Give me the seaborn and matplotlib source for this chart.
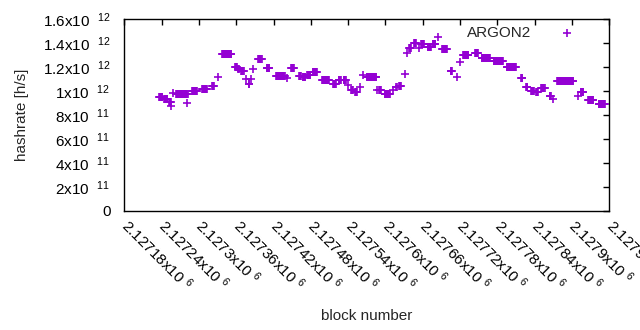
import numpy as np
import pandas as pd
import matplotlib
matplotlib.use("Agg")
import matplotlib.pyplot as plt
import seaborn as sns

# hashrate runs: first block, last block, hashrate (x 1e12 h/s)
run_start = [2127236, 2127244, 2127252, 2127255, 2127258, 2127263, 2127281, 2127289,
             2127305, 2127321, 2127331, 2127337, 2127358, 2127363, 2127368, 2127376,
             2127380, 2127384, 2127387, 2127395, 2127409, 2127424, 2127442, 2127448,
             2127461, 2127467, 2127474, 2127483, 2127498, 2127516, 2127525, 2127533,
             2127540, 2127545, 2127551, 2127559, 2127564, 2127570, 2127586, 2127590,
             2127599, 2127612, 2127617, 2127622, 2127632, 2127634, 2127638, 2127646,
             2127654, 2127657, 2127668, 2127676, 2127684, 2127691, 2127705, 2127715,
             2127720, 2127725, 2127744, 2127755, 2127774, 2127795, 2127818, 2127826,
             2127834, 2127842, 2127850, 2127864, 2127869, 2127876, 2127910, 2127914,
             2127926, 2127943]
run_end = [2127241, 2127249, 2127255, 2127255, 2127258, 2127282, 2127281, 2127297,
           2127313, 2127324, 2127331, 2127352, 2127361, 2127364, 2127372, 2127376,
           2127381, 2127384, 2127387, 2127401, 2127413, 2127438, 2127442, 2127453,
           2127464, 2127471, 2127479, 2127490, 2127509, 2127520, 2127528, 2127536,
           2127540, 2127548, 2127554, 2127559, 2127564, 2127585, 2127586, 2127593,
           2127607, 2127612, 2127618, 2127625, 2127632, 2127634, 2127641, 2127649,
           2127654, 2127662, 2127673, 2127680, 2127684, 2127699, 2127707, 2127715,
           2127720, 2127733, 2127749, 2127768, 2127789, 2127810, 2127820, 2127828,
           2127839, 2127845, 2127856, 2127866, 2127869, 2127902, 2127910, 2127918,
           2127934, 2127953]
run_value = [0.947, 0.930, 0.906, 0.875, 0.986, 0.978, 0.897, 1.000,
             1.014, 1.042, 1.114, 1.308, 1.197, 1.180, 1.164, 1.097,
             1.056, 1.100, 1.180, 1.264, 1.189, 1.122, 1.110, 1.189,
             1.125, 1.114, 1.136, 1.158, 1.089, 1.056, 1.092, 1.089,
             1.047, 1.008, 0.989, 1.030, 1.133, 1.114, 1.008, 1.008,
             0.975, 1.008, 1.030, 1.042, 1.142, 1.319, 1.356, 1.397,
             1.356, 1.389, 1.369, 1.392, 1.453, 1.347, 1.169, 1.114,
             1.244, 1.300, 1.319, 1.272, 1.250, 1.203, 1.106, 1.030,
             1.000, 0.992, 1.022, 0.961, 0.933, 1.083, 0.958, 0.989,
             0.925, 0.889]

x_ticks = [2127180, 2127240, 2127300, 2127360, 2127420, 2127480, 2127540,
           2127600, 2127660, 2127720, 2127780, 2127840, 2127900, 2127960]
x_tick_mant = ["2.12718", "2.12724", "2.1273", "2.12736", "2.12742", "2.12748",
               "2.12754", "2.1276", "2.12766", "2.12772", "2.12778", "2.12784",
               "2.1279", "2.12796"]
y_ticks = [0, 2e11, 4e11, 6e11, 8e11, 1e12, 1.2e12, 1.4e12, 1.6e12]
y_tick_labels = ["0", "2x10  $^{11}$", "4x10  $^{11}$", "6x10  $^{11}$", "8x10  $^{11}$",
                 "1x10  $^{12}$", "1.2x10  $^{12}$", "1.4x10  $^{12}$", "1.6x10  $^{12}$"]

# one point per block
rows = []
for s, e, v in zip(run_start, run_end, run_value):
    for b in range(s, e + 1):
        rows.append((b, v * 1e12))
df = pd.DataFrame(rows, columns=["block", "hashrate"])

sns.set_style("white")
plt.rcParams["font.family"] = ["Liberation Sans", "DejaVu Sans"]
plt.rcParams["mathtext.fontset"] = "custom"
plt.rcParams["mathtext.rm"] = "Liberation Sans"
plt.rcParams["mathtext.it"] = "Liberation Sans:italic"
plt.rcParams["mathtext.bf"] = "Liberation Sans:bold"

fig = plt.figure(figsize=(6.4, 3.3), dpi=100)
ax = fig.add_axes([124.3 / 640, 1 - 211 / 330, 485 / 640, 192 / 330])

sns.scatterplot(data=df, x="block", y="hashrate", marker="+", s=32,
                color="#9400d3", linewidth=1.2, label="ARGON2", ax=ax)

ax.set_xlim(2127180, 2127960)
ax.set_ylim(0, 1.6e12)
ax.set_xticks(x_ticks)
ax.set_xticklabels([m + "x10 $^{6}$" for m in x_tick_mant])
ax.set_yticks(y_ticks)
ax.set_yticklabels(y_tick_labels)

for sp in ax.spines.values():
    sp.set_color("black")
    sp.set_linewidth(1)
ax.tick_params(direction="in", length=4, width=1, top=True, right=True,
               labelsize=11, colors="black")
ax.tick_params(axis="y", pad=10)
ax.tick_params(axis="x", pad=8)
for lab in ax.get_xticklabels():
    lab.set_rotation(-45)
    lab.set_ha("left")
    lab.set_va("center")
    lab.set_rotation_mode("anchor")

ax.set_xlabel("block number", fontsize=11)
ax.set_ylabel("hashrate [h/s]", fontsize=11)
ax.xaxis.set_label_coords(0.5, -0.547)
ax.xaxis.label.set_va("center")
ax.yaxis.set_label_coords(-0.21, 0.5)
ax.yaxis.label.set_va("center")

ax.legend(loc="upper right", bbox_to_anchor=(582 / 640, 0.92),
          bbox_transform=fig.transFigure, frameon=False, markerfirst=False,
          fontsize=11, handlelength=2, handletextpad=1.35,
          borderaxespad=0, borderpad=0)

fig.savefig("out.png", dpi=100)
